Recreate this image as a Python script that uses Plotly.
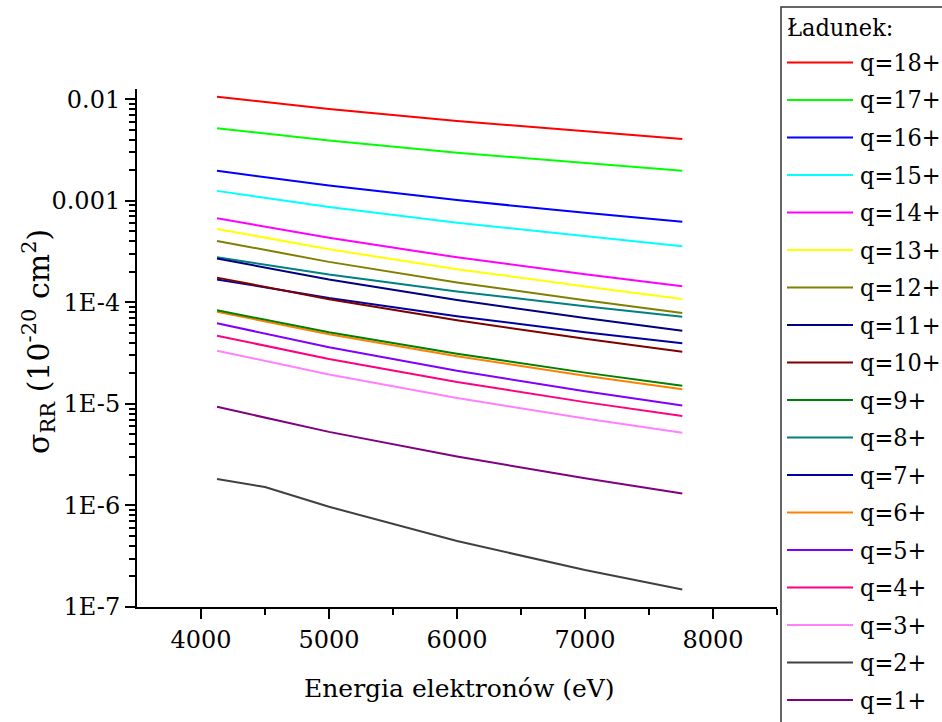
import plotly.graph_objects as go

# Electron energy grid (eV)
energy = [4125, 5000, 6000, 7000, 7760]
energy_q2 = [4125, 4500, 5000, 6000, 7000, 7760]

# Radiative recombination cross sections (10^-20 cm^2) per ion charge
sigma_q18 = [1.054e-2, 8.00e-3, 6.10e-3, 4.80e-3, 4.06e-3]
sigma_q17 = [5.18e-3, 3.91e-3, 2.97e-3, 2.33e-3, 1.97e-3]
sigma_q16 = [1.97e-3, 1.41e-3, 1.014e-3, 7.60e-4, 6.21e-4]
sigma_q15 = [1.25e-3, 8.69e-4, 6.08e-4, 4.45e-4, 3.57e-4]
sigma_q14 = [6.73e-4, 4.31e-4, 2.77e-4, 1.89e-4, 1.44e-4]
sigma_q13 = [5.28e-4, 3.33e-4, 2.12e-4, 1.43e-4, 1.08e-4]
sigma_q12 = [4.02e-4, 2.50e-4, 1.57e-4, 1.045e-4, 7.85e-5]
sigma_q11 = [2.70e-4, 1.68e-4, 1.054e-4, 7.00e-5, 5.25e-5]
sigma_q10 = [1.75e-4, 1.074e-4, 6.65e-5, 4.37e-5, 3.26e-5]
sigma_q9 = [8.34e-5, 5.08e-5, 3.12e-5, 2.03e-5, 1.51e-5]
sigma_q8 = [2.78e-4, 1.875e-4, 1.28e-4, 9.12e-5, 7.21e-5]
sigma_q7 = [1.68e-4, 1.104e-4, 7.30e-5, 5.08e-5, 3.95e-5]
sigma_q6 = [8.07e-5, 4.84e-5, 2.94e-5, 1.89e-5, 1.39e-5]
sigma_q5 = [6.21e-5, 3.61e-5, 2.12e-5, 1.33e-5, 9.62e-6]
sigma_q4 = [4.69e-5, 2.77e-5, 1.64e-5, 1.04e-5, 7.59e-6]
sigma_q3 = [3.33e-5, 1.95e-5, 1.14e-5, 7.18e-6, 5.19e-6]
sigma_q2 = [1.82e-6, 1.52e-6, 9.70e-7, 4.46e-7, 2.31e-7, 1.49e-7]
sigma_q1 = [9.35e-6, 5.30e-6, 3.03e-6, 1.85e-6, 1.31e-6]

charges = [18, 17, 16, 15, 14, 13, 12, 11, 10, 9, 8, 7, 6, 5, 4, 3, 2, 1]
labels = ["q=%d+" % q for q in charges]
x_tick_values = [4000, 5000, 6000, 7000, 8000]
y_tick_values = [1e-7, 1e-6, 1e-5, 1e-4, 1e-3, 1e-2]
y_tick_text = ["1E-7", "1E-6", "1E-5", "1E-4", "0.001", "0.01"]

series = {
    18: (energy, sigma_q18), 17: (energy, sigma_q17), 16: (energy, sigma_q16),
    15: (energy, sigma_q15), 14: (energy, sigma_q14), 13: (energy, sigma_q13),
    12: (energy, sigma_q12), 11: (energy, sigma_q11), 10: (energy, sigma_q10),
    9: (energy, sigma_q9), 8: (energy, sigma_q8), 7: (energy, sigma_q7),
    6: (energy, sigma_q6), 5: (energy, sigma_q5), 4: (energy, sigma_q4),
    3: (energy, sigma_q3), 2: (energy_q2, sigma_q2), 1: (energy, sigma_q1),
}

colors = {
    18: "#FF0000", 17: "#00FF00", 16: "#0000FF", 15: "#00FFFF",
    14: "#FF00FF", 13: "#FFFF00", 12: "#808000", 11: "#000080",
    10: "#800000", 9: "#008000", 8: "#008080", 7: "#0000A0",
    6: "#FF8000", 5: "#8000FF", 4: "#FF0080", 3: "#FF80FF",
    2: "#404040", 1: "#800080",
}

FONT = "DejaVu Serif"
FONT_LEG = "'DejaVu Serif Condensed', 'DejaVu Serif'"
W, H = 942, 722
L, R, T, B = 137, 165, 89, 115
PW, PH = W - L - R, H - T - B


def px(xp):
    return (xp - L) / PW


def py(yp):
    return (H - B - yp) / PH


fig = go.Figure()
for q in sorted(charges):
    xs, ys = series[q]
    fig.add_trace(go.Scatter(
        x=xs, y=ys, mode="lines", name="q=%d+" % q,
        line=dict(color=colors[q], width=2), showlegend=False,
    ))

# minor log ticks between decades
minor_y = [m * 10.0 ** e for e in range(-7, -2) for m in range(2, 10)]

fig.update_layout(
    width=W, height=H,
    margin=dict(l=L, r=R, t=T, b=B, pad=0),
    paper_bgcolor="white", plot_bgcolor="white",
    font=dict(family=FONT, size=24, color="black"),
    xaxis=dict(
        range=[3500, 8500], tickmode="array", tickvals=x_tick_values,
        ticks="outside", ticklen=10, tickwidth=2, tickcolor="black",
        showline=True, linewidth=2, linecolor="black",
        showgrid=False, zeroline=False,
        tickfont=dict(family=FONT, size=24, color="black"),
        minor=dict(tickvals=[4500, 5500, 6500, 7500, 8500], ticks="outside",
                   ticklen=6, tickwidth=2, tickcolor="black", showgrid=False),
    ),
    yaxis=dict(
        type="log", range=[-7, -1.9], tickmode="array",
        tickvals=y_tick_values, ticktext=y_tick_text,
        ticks="outside", ticklen=10, tickwidth=2, tickcolor="black",
        showline=True, linewidth=2, linecolor="black",
        showgrid=False, zeroline=False,
        tickfont=dict(family=FONT, size=24, color="black"),
        minor=dict(tickvals=minor_y, ticks="outside", ticklen=6,
                   tickwidth=1.5, tickcolor="black", showgrid=False),
    ),
)

annotations = [
    dict(text="Energia elektronów (eV)", xref="paper", yref="paper",
         x=px(459), y=py(688), xanchor="center", yanchor="middle",
         showarrow=False, font=dict(family=FONT, size=25, color="black")),
    dict(text="σ<sub>RR</sub> (10<sup>-20</sup> cm<sup>2</sup>)",
         xref="paper", yref="paper", x=px(38), y=py(342),
         xanchor="center", yanchor="middle", textangle=-90,
         showarrow=False, font=dict(family=FONT, size=30, color="black")),
    dict(text="Ładunek:", xref="paper", yref="paper", x=px(785), y=py(27),
         xanchor="left", yanchor="middle", showarrow=False,
         font=dict(family=FONT_LEG, size=25, color="black")),
]

shapes = [
    dict(type="rect", xref="paper", yref="paper",
         x0=px(781), x1=px(960), y0=py(7), y1=py(740),
         line=dict(color="#333333", width=1.5), fillcolor="rgba(0,0,0,0)"),
]

# legend entries, drawn top to bottom
for i, q in enumerate(charges):
    yc = 62.5 + i * 37.5
    shapes.append(dict(type="line", xref="paper", yref="paper",
                       x0=px(787), x1=px(853), y0=py(yc), y1=py(yc),
                       line=dict(color=colors[q], width=2)))
    annotations.append(dict(text=labels[i], xref="paper", yref="paper",
                            x=px(858), y=py(yc), xanchor="left",
                            yanchor="middle", showarrow=False,
                            font=dict(family=FONT_LEG, size=25, color="black")))

fig.update_layout(annotations=annotations, shapes=shapes)
fig.write_html("out.html")
